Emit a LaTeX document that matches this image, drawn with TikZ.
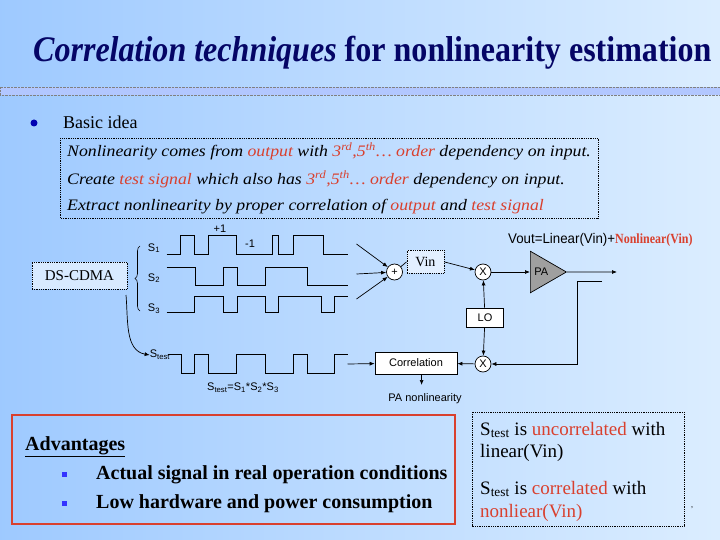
\documentclass[tikz,border=0pt]{standalone}
\usepackage{fontspec}
\setmainfont{Liberation Serif}
\setsansfont{Liberation Sans}
\usepackage{graphicx}
\usetikzlibrary{arrows.meta,decorations.pathreplacing,shapes.geometric}
\definecolor{navy}{rgb}{0.02,0.02,0.4}
\definecolor{rd}{rgb}{0.85,0.25,0.18}
\definecolor{bgl}{rgb}{0.62,0.79,1}
\definecolor{bgr}{rgb}{0.86,0.93,1}
\begin{document}
\begin{tikzpicture}[x=1pt,y=-1pt,
  wave/.style={line width=0.9pt},
  sig/.style={font=\sffamily\fontsize{11}{12}\selectfont,inner sep=0pt},
  blk/.style={draw,line width=0.7pt,fill=white,font=\sffamily\fontsize{11}{12}\selectfont,inner sep=0pt},
  mix/.style={circle,draw,line width=0.7pt,fill=white,minimum size=16pt,inner sep=0pt,font=\sffamily\fontsize{11}{12}\selectfont},
  arr/.style={line width=0.7pt,-{Latex[length=5pt,width=4pt]}},
  dotbox/.style={draw,densely dotted,line width=0.8pt}]
\useasboundingbox (0,0) rectangle (720,540);
\shade[left color=bgl,right color=bgr] (0,0) rectangle (720,540);
% title
\node[anchor=west,inner sep=0pt,text=navy] (title) at (33,53) {\scalebox{0.89}[1]{\rmfamily\fontsize{36}{40}\selectfont\bfseries\itshape Correlation techniques \upshape for nonlinearity estimation}};
\fill[bgl!80!blue!60] (0,87) rectangle (720,95);
\draw[densely dotted,gray] (0,87) rectangle (720,95);
% basic idea
\fill[blue!70!black] (34,123) circle (3.5pt);
\node[anchor=west,inner sep=0pt,font=\rmfamily\fontsize{18}{20}\selectfont] (basic) at (63,122) {Basic idea};
\draw[dotbox] (60,138) rectangle (598,218);
\begin{scope}[every node/.style={anchor=west,inner sep=0pt,font=\rmfamily\itshape\fontsize{16}{18}\selectfont}]
\node (l1) at (67,151) {\scalebox{1.11}[1]{Nonlinearity comes from \textcolor{rd}{output} with \textcolor{rd}{3\textsuperscript{rd},5\textsuperscript{th}\dots\ order} dependency on input.}};
\node (l2) at (67,179) {\scalebox{1.11}[1]{Create \textcolor{rd}{test signal} which also has \textcolor{rd}{3\textsuperscript{rd},5\textsuperscript{th}\dots\ order} dependency on input.}};
\node (l3) at (67,207) {\scalebox{1.11}[1]{Extract nonlinearity by proper correlation of \textcolor{rd}{output} and \textcolor{rd}{test signal}}};
\end{scope}
% DS-CDMA
\node[dotbox,fill=white!60!bgl,minimum width=95pt,minimum height=27pt,inner sep=0pt,font=\rmfamily\fontsize{15}{16}\selectfont] (ds) at (79.5,275.5) {DS-CDMA};
\draw[line width=0.6pt,decorate,decoration={brace,amplitude=5pt,mirror}] (140,246) -- (140,311);
\node[sig] (s1) at (154,248) {S\textsubscript{1}};
\node[sig] (s2) at (154,278) {S\textsubscript{2}};
\node[sig] (s3) at (154,309) {S\textsubscript{3}};
\node[sig] (st) at (160,355) {S\textsubscript{test}};
\draw[arr] (126,295) to[out=-85,in=170] (st.west);
% waves
\draw[wave] (166.5,254) -- (180,254) |- (194.7,235) |- (208,254) |- (236.5,235) |- (272,254) |- (278.6,235) |- (293,254) |- (323,235) |- (347.5,254) coordinate (e1);
\draw[wave] (166.5,267) -- (195,267) |- (223,285) |- (237,267) |- (265,285) |- (307,267) |- (347.5,285) coordinate (e2);
\draw[wave] (166.5,312) -- (194.7,312) |- (223,296) |- (237,312) |- (265,296) |- (278.6,312) |- (321,296) |- (334,312) |- (347.5,296) coordinate (e3);
\draw[wave] (167.6,354) -- (181,354) |- (194.7,373) |- (208,354) |- (236.5,373) |- (265,354) |- (293,373) |- (307,354) |- (334,373) |- (347.5,354);
\node[sig] (p1) at (220,229) {+1};
\node[sig] (m1) at (250,244) {-1};
\node[sig] (eq) at (243,388) {S\textsubscript{test}=S\textsubscript{1}*S\textsubscript{2}*S\textsubscript{3}};
\coordinate (wend) at (347.5,364);
% adder
\node[mix] (add) at (394.5,272) {+};
\coordinate (a1) at (356.5,244);
\coordinate (a2) at (356.5,274);
\coordinate (a3) at (356.5,299);
\draw[arr] (a1) -- (add);
\draw[arr] (a2) -- (add);
\draw[arr] (a3) -- (add);
\node[dotbox,fill=white!70!bgl,minimum width=37pt,minimum height=23pt,inner sep=0pt,font=\rmfamily\fontsize{14}{15}\selectfont,anchor=north west] (vin) at (406.5,250) {Vin};
\node[mix] (x1) at (483,272) {X};
\node[isosceles triangle,draw,fill=gray!75,line width=0.7pt,minimum height=36pt,minimum width=36pt,isosceles triangle apex angle=60,inner sep=0pt,anchor=west,font=\sffamily\fontsize{11}{12}\selectfont] (pa) at (530,272) {PA\,\,};
\coordinate (out) at (617,272);
\draw[line width=0.7pt] (add) -- (vin.west);
\draw[arr] (vin.east) -- (x1);
\draw[arr] (x1) -- (pa.west);
\draw[arr] (pa.east) -- (out);
\node[blk,minimum width=37pt,minimum height=19pt] (lo) at (485,317.5) {LO};
\node[mix] (x2) at (483,364) {X};
\node[blk,minimum width=82pt,minimum height=22pt] (cor) at (416,363) {Correlation};
\draw[arr] (lo) -- (x1);
\draw[arr] (lo) -- (x2);
\coordinate (fb) at (602,281);
\draw[arr] (fb) -- (577,281) |- (x2);
\draw[arr] (x2) -- (cor);
\draw[arr] (wend) -- (cor);
\coordinate (pn) at (421.6,385);
\draw[arr] (cor.south -| pn) -- (pn);
\node[sig] (pnl) at (425,399) {PA nonlinearity};
\node[anchor=west,inner sep=0pt,font=\sffamily\fontsize{14}{15}\selectfont] (vout) at (508,240) {\scalebox{0.95}[1]{Vout=Linear(Vin)+\textcolor{rd}{\rmfamily\bfseries\scalebox{0.9}[1]{Nonlinear(Vin)}}}};
% advantages
\draw[rd,line width=1.5pt] (12,415) rectangle (455,524);
\node[anchor=west,inner sep=0pt,font=\rmfamily\bfseries\fontsize{20}{22}\selectfont] (adv) at (25,447) {\underline{Advantages}};
\fill[blue!80] (61.5,472) rectangle (66.5,477);
\fill[blue!80] (61.5,501) rectangle (66.5,506);
\node[anchor=west,inner sep=0pt,font=\rmfamily\bfseries\fontsize{20}{22}\selectfont] (b1) at (96,475) {Actual signal in real operation conditions};
\node[anchor=west,inner sep=0pt,font=\rmfamily\bfseries\fontsize{20}{22}\selectfont] (b2) at (96,504) {Low hardware and power consumption};
% right box
\draw[dotbox] (472,412) rectangle (684,526);
\begin{scope}[every node/.style={anchor=west,inner sep=0pt,font=\rmfamily\fontsize{19}{21}\selectfont}]
\node (r1) at (480,430) {S\textsubscript{test} is \textcolor{rd}{uncorrelated} with};
\node (r2) at (480,453) {linear(Vin)};
\node (r3) at (480,489) {S\textsubscript{test} is \textcolor{rd}{correlated} with};
\node (r4) at (480,513) {\textcolor{rd}{nonliear(Vin)}};
\end{scope}
\node[inner sep=0pt,font=\rmfamily\fontsize{8}{9}\selectfont] (num) at (692,508) {,};
\end{tikzpicture}
\end{document}
